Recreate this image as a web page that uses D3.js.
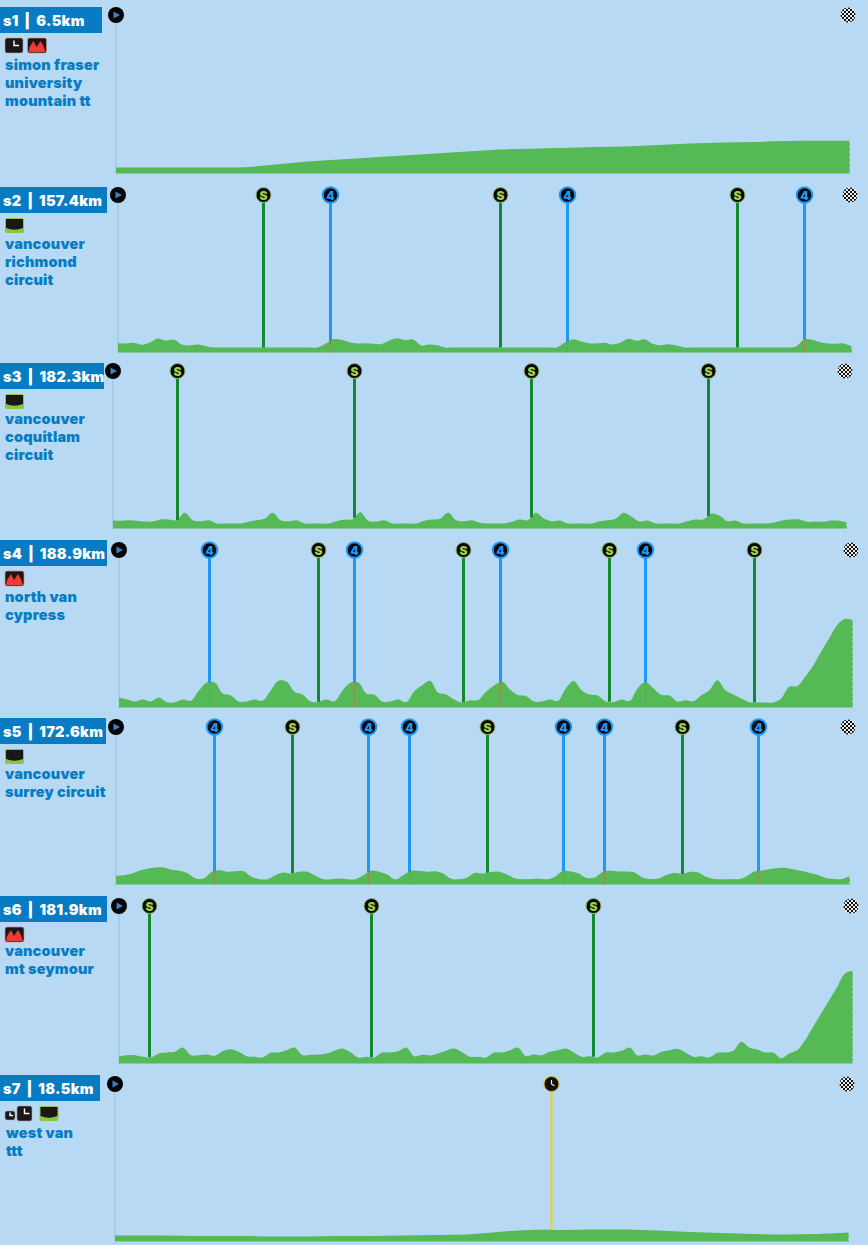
<!DOCTYPE html>
<html>
<head>
<meta charset="utf-8">
<script src="https://cdn.jsdelivr.net/npm/d3@7"></script>
<style>
  body { margin: 0; background: #b7d9f3; }
  svg { display: block; }
  text { font-family: Inter, "Liberation Sans", sans-serif; font-weight: 900; }
</style>
</head>
<body>
<div id="visual"></div>
<script>
// stage data
const stageIds = ["s1", "s2", "s3", "s4", "s5", "s6", "s7"];
const stageKm = [6.5, 157.4, 182.3, 188.9, 172.6, 181.9, 18.5];
const stageNames = [
  ["simon fraser", "university", "mountain tt"],
  ["vancouver", "richmond", "circuit"],
  ["vancouver", "coquitlam", "circuit"],
  ["north van", "cypress"],
  ["vancouver", "surrey circuit"],
  ["vancouver", "mt seymour"],
  ["west van", "ttt"]
];
const stageIcons = [
  ["clock", "mountain"], ["flat"], ["flat"], ["mountain"], ["flat"], ["mountain"], ["smallclock", "tallclock", "flat"]
];

// elevation in metres, evenly spaced along each stage
const elevS1 = [60,60,60,60,62,90,120,140,160,180,200,220,240,248,255,265,270,285,300,310,315,325,328,328];
const elevS2 = [93,90,97,77,100,140,120,130,80,70,80,63,50,50,50,50,50,50,50,50,50,50,50,50,50,50,87,133,127,103,90,93,87,83,120,143,123,130,70,80,73,50,50,50,50,50,50,50,50,50,50,50,50,50,50,50,100,133,113,93,90,97,80,100,137,117,133,87,73,83,70,50,50,50,50,50,50,50,50,50,50,50,50,50,50,60,130,127,103,90,87,90,60];
const elevS3 = [80,77,83,77,70,70,90,90,83,157,83,73,83,50,50,50,50,67,83,97,157,83,73,83,50,50,50,50,73,90,90,163,77,70,83,50,50,50,50,77,90,97,157,83,73,83,57,50,50,50,67,90,83,157,100,73,80,50,50,50,50,73,83,97,157,117,70,80,50,50,50,50,73,90,90,150,130,73,80,50,50,50,50,63,83,90,90,67,70,67,80,77,60];
const elevS4 = [100,80,60,80,60,100,53,53,80,67,167,250,250,140,123,60,60,80,67,167,267,257,157,130,60,57,80,60,167,247,250,140,127,60,60,80,53,163,223,267,147,130,80,50,73,73,157,220,260,180,125,115,60,60,80,65,190,265,170,130,120,60,55,80,65,190,255,190,125,120,60,73,63,123,173,273,173,130,90,53,50,50,50,90,207,213,307,417,557,690,823,887,873];
const elevS5 = [87,93,110,140,160,170,170,147,137,110,60,60,127,143,127,133,133,77,53,53,93,120,110,127,127,87,53,53,60,53,53,93,140,127,100,50,93,137,137,127,133,110,57,53,67,117,110,125,127,100,62,53,55,57,53,75,135,130,110,65,70,125,137,130,130,120,70,55,60,95,115,105,127,120,75,55,53,56,53,80,130,140,155,165,165,150,135,115,95,65,55,55,85];
const elevS6 = [73,83,83,67,60,100,110,117,160,83,83,90,77,123,143,117,73,67,60,107,110,133,160,83,87,90,100,127,150,113,60,67,60,110,110,123,160,73,87,80,100,127,150,113,67,67,60,110,110,133,160,73,90,83,117,133,150,110,67,73,60,110,110,127,160,80,90,80,117,133,147,110,67,73,60,107,110,127,217,160,140,110,110,53,100,133,233,367,500,633,763,900,930];
const elevS7 = [60,60,58,55,55,50,50,55,55,60,65,70,95,115,115,120,120,110,95,85,75,70,75,90];

// marker positions in km
const sprintKm = [[], [31.1, 81.9, 132.7], [15.9, 59.9, 103.8, 147.8], [51.2, 88.5, 126.1, 163.4], [41.4, 87.2, 133.1], [7.4, 62.5, 117.5], []];
const climbKm = [[], [45.5, 96.3, 147.1], [], [23.2, 60.5, 98.1, 135.4], [23.0, 59.3, 68.9, 105.1, 114.8, 151.0], [], []];
const timeKm = [[], [], [], [], [], [], [11.0]];

const profiles = [elevS1, elevS2, elevS3, elevS4, elevS5, elevS6, elevS7];

// layout
const boxTop = [7, 187, 363, 540, 718, 896, 1075];
const boxWidth = [102, 107, 104, 107, 106, 107, 100];
const nameY = [70, 249, 424, 602, 779, 956, 1138];
const iconRow = [15, 195, 371, 550, 727, 906, 1084];
const baseY = [173.5, 352.5, 528.5, 707.5, 884.5, 1063.5, 1241.5];
const startX = [116, 118, 113, 119, 116, 119, 115];
const plotW = 734;
const pxPerMetre = 0.1;

const colors = {
  bg: "#b7d9f3", box: "#087cc2", hill: "#55b955", start: "#97c2d8",
  sprint: "#12892d", climb: "#1f97f4", time: "#f6d10f", dash: "#c0703a", lime: "#9fd04a"
};

const svg = d3.select("#visual").append("svg")
  .attr("width", 868).attr("height", 1245);

const defs = svg.append("defs");
const checker = defs.append("pattern").attr("id", "checker")
  .attr("width", 4).attr("height", 4).attr("patternUnits", "userSpaceOnUse");
checker.append("rect").attr("width", 4).attr("height", 4).attr("fill", "#eee");
checker.append("rect").attr("width", 2).attr("height", 2).attr("fill", "#111");
checker.append("rect").attr("x", 2).attr("y", 2).attr("width", 2).attr("height", 2).attr("fill", "#111");

function drawIcon(g, type, x, y) {
  const icon = g.append("g").attr("transform", "translate(" + x + "," + y + ")");
  if (type === "clock" || type === "smallclock" || type === "tallclock") {
    const w = type === "clock" ? 18 : type === "tallclock" ? 15 : 10;
    const h = type === "smallclock" ? 9 : 15;
    const s = h / 15;
    icon.append("rect").attr("width", w).attr("height", h).attr("rx", 2).attr("fill", "#1b1716").attr("stroke", "#aab").attr("stroke-width", 0.6);
    icon.append("path").attr("d", "M" + w / 2 + "," + 2.5 * s + "V" + h / 2 + "H" + (w / 2 + 5 * s))
      .attr("fill", "none").attr("stroke", "#fff").attr("stroke-width", 1.4);
  } else if (type === "mountain") {
    icon.append("rect").attr("width", 19).attr("height", 15).attr("rx", 2).attr("fill", "#1b1716").attr("stroke", "#d98a8a").attr("stroke-width", 0.7);
    icon.append("path").attr("d", "M1,14 L2,9 L6,3 L9,9 L13,3 L16,8 L18,14 Z").attr("fill", "#ee3b33");
  } else {
    icon.append("rect").attr("width", 19).attr("height", 15).attr("rx", 2).attr("fill", "#8cc63f");
    icon.append("path").attr("d", "M1,1 H18 V10 Q9.5,13.5 1,10 Z").attr("fill", "#1b1716");
  }
}

function drawMarker(g, x, y, kind) {
  const m = g.append("g").attr("transform", "translate(" + x + "," + y + ")");
  if (kind === "start") {
    m.append("circle").attr("r", 8).attr("fill", "#050505");
    m.append("path").attr("d", "M-2.5,-3.5 L4,0 L-2.5,3.5 Z").attr("fill", "#3f7fc4");
  } else if (kind === "finish") {
    m.append("circle").attr("r", 7.5).attr("fill", "url(#checker)");
  } else if (kind === "sprint") {
    m.append("circle").attr("r", 7.5).attr("fill", "#050505").attr("stroke", "#8fb56a").attr("stroke-width", 1);
    m.append("text").attr("text-anchor", "middle").attr("y", 4.5).attr("font-size", 12).attr("fill", colors.lime).text("S");
  } else if (kind === "climb") {
    m.append("circle").attr("r", 7.8).attr("fill", "#050505").attr("stroke", colors.climb).attr("stroke-width", 2);
    m.append("text").attr("text-anchor", "middle").attr("y", 4.5).attr("font-size", 12).attr("fill", colors.climb).text("4");
  } else {
    m.append("circle").attr("r", 7.5).attr("fill", "#111").attr("stroke", "#d8b72a").attr("stroke-width", 1);
    m.append("path").attr("d", "M0,-4V0L3,2").attr("fill", "none").attr("stroke", "#eee").attr("stroke-width", 1.2);
  }
}

stageIds.forEach(function(id, s) {
  const km = stageKm[s], elev = profiles[s];
  const kms = elev.map(function(d, i) { return i / (elev.length - 1) * km; });
  const g = svg.append("g");

  const x = d3.scaleLinear().domain([0, km]).range([startX[s], startX[s] + plotW]);
  const y = d3.scaleLinear().domain([0, 1000]).range([baseY[s], baseY[s] - 1000 * pxPerMetre]);
  const elevAt = d3.scaleLinear().domain(kms).range(elev);

  // start line
  g.append("line")
    .attr("x1", x(0)).attr("x2", x(0))
    .attr("y1", iconRow[s] + 8).attr("y2", y(0))
    .attr("stroke", colors.start).attr("stroke-width", 1);

  // profile
  const area = d3.area()
    .x(function(d, i) { return x(kms[i]); })
    .y0(y(0))
    .y1(function(d) { return y(d); })
    .curve(d3.curveCatmullRom.alpha(0.5));
  g.append("path").datum(elev).attr("d", area).attr("fill", colors.hill);

  // rough right edge of the profile
  g.append("line")
    .attr("x1", x(km)).attr("x2", x(km))
    .attr("y1", y(elev[elev.length - 1])).attr("y2", y(0))
    .attr("stroke", colors.bg).attr("stroke-width", 1.2).attr("stroke-dasharray", "3,2");

  // marker lines, then dashes through the hill on climbs
  const lines = [
    { kms: sprintKm[s], kind: "sprint", color: colors.sprint },
    { kms: climbKm[s], kind: "climb", color: colors.climb },
    { kms: timeKm[s], kind: "time", color: colors.time }
  ];
  lines.forEach(function(set) {
    set.kms.forEach(function(k) {
      const px = Math.round(x(k)) + 0.5;
      g.append("line")
        .attr("x1", px).attr("x2", px)
        .attr("y1", iconRow[s] + 8).attr("y2", y(elevAt(k)))
        .attr("stroke", set.color).attr("stroke-width", set.kind === "time" ? 2 : 3);
      if (set.kind === "climb") {
        g.append("line")
          .attr("x1", px).attr("x2", px)
          .attr("y1", y(elevAt(k))).attr("y2", y(0))
          .attr("stroke", colors.dash).attr("stroke-width", 1).attr("stroke-dasharray", "3,2");
      }
      drawMarker(g, px, iconRow[s], set.kind);
    });
  });

  drawMarker(g, x(0), iconRow[s], "start");
  drawMarker(g, x(km) - 2, iconRow[s], "finish");

  // label box
  g.append("rect").attr("x", 0).attr("y", boxTop[s]).attr("width", boxWidth[s]).attr("height", 26).attr("fill", colors.box);
  g.append("text")
    .attr("x", 3).attr("y", boxTop[s] + 18.5)
    .attr("font-size", 14.5).attr("fill", "#fff")
    .attr("letter-spacing", 0.3).attr("word-spacing", 2.5)
    .text(id + " | " + km + "km");

  // stage type icons
  let ix = 5;
  stageIcons[s].forEach(function(t) {
    const small = t === "smallclock";
    drawIcon(g, t, ix, boxTop[s] + (small ? 36 : 31));
    ix += small ? 12 : 22.5;
  });

  // stage name
  g.selectAll("text.name")
    .data(stageNames[s])
    .enter()
    .append("text")
    .attr("class", "name")
    .attr("x", s === 6 ? 6 : 5)
    .attr("y", function(d, i) { return nameY[s] + i * 18; })
    .attr("font-size", 14.5)
    .attr("letter-spacing", 0.2)
    .attr("fill", colors.box)
    .text(function(d) { return d; });
});
</script>
</body>
</html>
